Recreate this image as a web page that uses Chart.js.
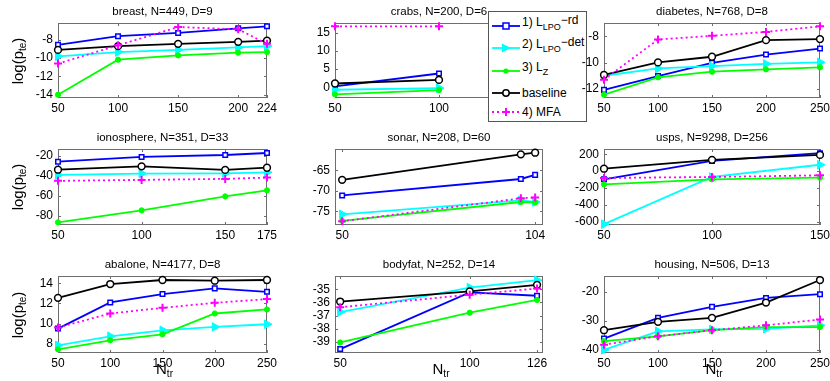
<!DOCTYPE html>
<html>
<head>
<meta charset="utf-8">
<title>log(p_te) against N_tr</title>
<script src="https://cdn.jsdelivr.net/npm/chart.js@4.4.1/dist/chart.umd.min.js"></script>
<style>
  body { margin: 0; background: #fff; }
  #fig { position: relative; width: 830px; height: 381px; overflow: hidden; font-family: "Liberation Sans", Arial, sans-serif; color: #000; }
  .panel { position: absolute; }
  .ylab { position: absolute; width: 80px; height: 18px; line-height: 18px; text-align: center; font-size: 15px; transform: rotate(-90deg); white-space: nowrap; }
  .xlab { position: absolute; width: 60px; height: 18px; line-height: 18px; text-align: center; font-size: 15px; white-space: nowrap; }
  .ylab sub, .xlab sub { font-size: 10px; vertical-align: -3px; line-height: 0; }
  #legend { position: absolute; left: 488px; top: 11px; width: 99px; height: 111px; border: 1px solid #555; background: #fff; z-index: 5; box-sizing: border-box; }
  #legend svg { position: absolute; left: 3px; }
  #legend .txt { position: absolute; left: 33px; height: 14px; line-height: 14px; font-size: 12px; white-space: nowrap; }
  #legend sub { font-size: 9px; vertical-align: -4px; line-height: 0; }
  #legend .up { position: relative; top: -2px; }
</style>
</head>
<body>
<div id="fig"></div>
<script>
// series names, in legend order
const seriesLabels = ['1) L_LPO-rd', '2) L_LPO-det', '3) L_Z', 'baseline', '4) MFA'];

// breast, N=449, D=9
const breastX = [50, 100, 150, 200, 224];
const breastRd = [-8.54, -7.6, -7.25, -6.74, -6.52];
const breastDet = [-9.8, -9.34, -9.1, -8.83, -8.69];
const breastLz = [-14.0, -10.17, -9.7, -9.4, -9.34];
const breastBase = [-9.1, -8.69, -8.44, -8.22, -8.08];
const breastMfa = [-10.6, -8.6, -6.6, -6.85, -8.44];
const breastXTicks = [50, 100, 150, 200, 224];
const breastYTicks = [-14, -12, -10, -8];
const breastXLim = [50, 224];
const breastYLim = [-14.36, -6.16];

// crabs, N=200, D=6
const crabsX = [50, 100];
const crabsRd = [0.27, 3.8];
const crabsDet = [-0.64, -0.19];
const crabsLz = [-1.9, -0.72];
const crabsBase = [1.07, 2.04];
const crabsMfa = [16.7, 16.7];
const crabsXTicks = [50, 100, 150];
const crabsYTicks = [0, 5, 10, 15];
const crabsXLim = [50, 150];
const crabsYLim = [-2.9, 17.6];

// diabetes, N=768, D=8
const diabetesX = [50, 100, 150, 200, 250];
const diabetesRd = [-12.08, -11.02, -10.01, -9.38, -8.92];
const diabetesDet = [-11.0, -10.44, -10.26, -10.1, -9.98];
const diabetesLz = [-12.45, -11.12, -10.69, -10.51, -10.36];
const diabetesBase = [-10.94, -9.98, -9.55, -8.28, -8.2];
const diabetesMfa = [-11.3, -8.23, -7.95, -7.65, -7.22];
const diabetesXTicks = [50, 100, 150, 200, 250];
const diabetesYTicks = [-12, -10, -8];
const diabetesXLim = [50, 250];
const diabetesYLim = [-12.7, -6.97];

// ionosphere, N=351, D=33
const ionoX = [50, 100, 150, 175];
const ionoRd = [-25.7, -21, -19, -17];
const ionoDet = [-39, -37.7, -37.4, -36.4];
const ionoLz = [-86.6, -74.6, -60.6, -54.5];
const ionoBase = [-33.8, -30.4, -34, -31.8];
const ionoMfa = [-45, -44, -43, -41.7];
const ionoXTicks = [50, 100, 150, 175];
const ionoYTicks = [-80, -60, -40, -20];
const ionoXLim = [50, 175];
const ionoYLim = [-89.3, -13];

// sonar, N=208, D=60
const sonarX = [50, 100, 104];
const sonarRd = [-71.1, -67.1, -66.1];
const sonarDet = [-75.7, -72.3, -72.7];
const sonarLz = [-77.3, -72.7, -72.8];
const sonarBase = [-67.3, -61.1, -60.7];
const sonarMfa = [-77.4, -71.8, -71.6];
const sonarXTicks = [50, 104];
const sonarYTicks = [-75, -70, -65];
const sonarXLim = [48, 106.2];
const sonarYLim = [-78.3, -59.8];

// usps, N=9298, D=256
const uspsX = [50, 100, 150];
const uspsRd = [-98, 121, 212];
const uspsDet = [-630, -70, 75];
const uspsLz = [-158, -98, -78];
const uspsBase = [28, 133, 192];
const uspsMfa = [-82, -70, -51];
const uspsXTicks = [50, 100, 150];
const uspsYTicks = [-600, -400, -200, 0, 200];
const uspsXLim = [50, 150];
const uspsYLim = [-640, 262];

// abalone, N=4177, D=8
const abaloneX = [50, 100, 150, 200, 250];
const abaloneRd = [9.5, 12.1, 12.93, 13.5, 13.16];
const abaloneDet = [7.83, 8.73, 9.33, 9.66, 9.93];
const abaloneLz = [7.43, 8.33, 8.93, 11.0, 11.4];
const abaloneBase = [12.56, 13.93, 14.33, 14.26, 14.33];
const abaloneMfa = [9.6, 11.0, 11.56, 12.06, 12.43];
const abaloneXTicks = [50, 100, 150, 200, 250];
const abaloneYTicks = [8, 10, 12, 14];
const abaloneXLim = [50, 250];
const abaloneYLim = [7.07, 14.73];

// bodyfat, N=252, D=14
const bodyfatX = [50, 100, 126];
const bodyfatRd = [-39.54, -35.24, -35.49];
const bodyfatDet = [-36.73, -34.87, -34.31];
const bodyfatLz = [-39.04, -36.78, -35.81];
const bodyfatBase = [-35.93, -35.16, -34.66];
const bodyfatMfa = [-36.36, -35.41, -34.94];
const bodyfatXTicks = [50, 100, 126];
const bodyfatYTicks = [-39, -38, -37, -36, -35];
const bodyfatXLim = [48, 128.3];
const bodyfatYLim = [-39.84, -33.99];

// housing, N=506, D=13
const housingX = [50, 100, 150, 200, 250];
const housingRd = [-36.1, -28.9, -25.1, -22, -20.7];
const housingDet = [-40, -33.6, -32.9, -32.7, -31.5];
const housingLz = [-37, -35.3, -33.2, -32.1, -32.1];
const housingBase = [-33.2, -30.3, -28.9, -23.6, -15.8];
const housingMfa = [-38.2, -35.3, -33.2, -31.5, -29.5];
const housingXTicks = [50, 100, 150, 200, 250];
const housingYTicks = [-40, -30, -20];
const housingXLim = [50, 250];
const housingYLim = [-41.1, -14.4];

const panels = [
  {title: 'breast, N=449, D=9', col: 0, row: 0, x: breastX, ys: [breastRd, breastDet, breastLz, breastBase, breastMfa], xLim: breastXLim, yLim: breastYLim, xTicks: breastXTicks, yTicks: breastYTicks},
  {title: 'crabs, N=200, D=6', col: 1, row: 0, x: crabsX, ys: [crabsRd, crabsDet, crabsLz, crabsBase, crabsMfa], xLim: crabsXLim, yLim: crabsYLim, xTicks: crabsXTicks, yTicks: crabsYTicks},
  {title: 'diabetes, N=768, D=8', col: 2, row: 0, x: diabetesX, ys: [diabetesRd, diabetesDet, diabetesLz, diabetesBase, diabetesMfa], xLim: diabetesXLim, yLim: diabetesYLim, xTicks: diabetesXTicks, yTicks: diabetesYTicks},
  {title: 'ionosphere, N=351, D=33', col: 0, row: 1, x: ionoX, ys: [ionoRd, ionoDet, ionoLz, ionoBase, ionoMfa], xLim: ionoXLim, yLim: ionoYLim, xTicks: ionoXTicks, yTicks: ionoYTicks},
  {title: 'sonar, N=208, D=60', col: 1, row: 1, x: sonarX, ys: [sonarRd, sonarDet, sonarLz, sonarBase, sonarMfa], xLim: sonarXLim, yLim: sonarYLim, xTicks: sonarXTicks, yTicks: sonarYTicks},
  {title: 'usps, N=9298, D=256', col: 2, row: 1, x: uspsX, ys: [uspsRd, uspsDet, uspsLz, uspsBase, uspsMfa], xLim: uspsXLim, yLim: uspsYLim, xTicks: uspsXTicks, yTicks: uspsYTicks},
  {title: 'abalone, N=4177, D=8', col: 0, row: 2, x: abaloneX, ys: [abaloneRd, abaloneDet, abaloneLz, abaloneBase, abaloneMfa], xLim: abaloneXLim, yLim: abaloneYLim, xTicks: abaloneXTicks, yTicks: abaloneYTicks},
  {title: 'bodyfat, N=252, D=14', col: 1, row: 2, x: bodyfatX, ys: [bodyfatRd, bodyfatDet, bodyfatLz, bodyfatBase, bodyfatMfa], xLim: bodyfatXLim, yLim: bodyfatYLim, xTicks: bodyfatXTicks, yTicks: bodyfatYTicks},
  {title: 'housing, N=506, D=13', col: 2, row: 2, x: housingX, ys: [housingRd, housingDet, housingLz, housingBase, housingMfa], xLim: housingXLim, yLim: housingYLim, xTicks: housingXTicks, yTicks: housingYTicks}
];

// axes boxes on the page (left/width per column, top/height per row)
const cols = [{l: 58, w: 209}, {l: 335, w: 208}, {l: 604, w: 216}];
const rows = [{t: 23, h: 75}, {t: 149, h: 76}, {t: 276, h: 77}];
const YAXIS_W = 50, TITLE_H = 22, XAXIS_H = 20, RIGHT_PAD = 14;
const FONT = '"Liberation Sans", Arial, sans-serif';

// line + marker styles, same order as seriesLabels
const styles = [
  {borderColor: '#0000ff', pointStyle: 'rect', pointRadius: 3.2, pointBackgroundColor: '#ffffff', pointBorderColor: '#0000ff', pointBorderWidth: 1.5},
  {borderColor: '#00ffff', pointStyle: 'triangle', pointRotation: 90, pointRadius: 5, pointBackgroundColor: '#00ffff', pointBorderColor: '#00ffff', pointBorderWidth: 1},
  {borderColor: '#00ff00', pointStyle: 'circle', pointRadius: 2.6, pointBackgroundColor: '#00ff00', pointBorderColor: '#00ff00', pointBorderWidth: 1},
  {borderColor: '#000000', pointStyle: 'circle', pointRadius: 3.4, pointBackgroundColor: '#ffffff', pointBorderColor: '#000000', pointBorderWidth: 1.5},
  {borderColor: '#ff00ff', borderDash: [2, 3], pointStyle: 'cross', pointRadius: 4, pointBackgroundColor: '#ff00ff', pointBorderColor: '#ff00ff', pointBorderWidth: 2}
];

function tickText(v) {
  return '' + v;
}

// matlab-ish box round the plot area with inward tick marks
const boxPlugin = {
  id: 'matlabBox',
  beforeDatasetsDraw(chart) {
    const ctx = chart.ctx;
    const a = chart.chartArea;
    const sx = chart.scales.x, sy = chart.scales.y;
    ctx.save();
    ctx.strokeStyle = '#6e6e6e';
    ctx.lineWidth = 1;
    ctx.strokeRect(a.left + 0.5, a.top + 0.5, a.right - a.left - 1, a.bottom - a.top - 1);
    ctx.beginPath();
    sx.ticks.forEach(function(t) {
      const p = Math.round(sx.getPixelForValue(t.value)) + 0.5;
      ctx.moveTo(p, a.bottom); ctx.lineTo(p, a.bottom - 3);
      ctx.moveTo(p, a.top); ctx.lineTo(p, a.top + 3);
    });
    sy.ticks.forEach(function(t) {
      const p = Math.round(sy.getPixelForValue(t.value)) + 0.5;
      ctx.moveTo(a.left, p); ctx.lineTo(a.left + 3, p);
      ctx.moveTo(a.right, p); ctx.lineTo(a.right - 3, p);
    });
    ctx.stroke();
    ctx.restore();
  }
};

const fig = document.getElementById('fig');

panels.forEach(function(p) {
  const c = cols[p.col], r = rows[p.row];
  const div = document.createElement('div');
  div.className = 'panel';
  div.style.left = (c.l - YAXIS_W) + 'px';
  div.style.top = (r.t - TITLE_H) + 'px';
  // right-hand column sits above the legend so its tick labels stay readable
  if (p.col === 2) div.style.zIndex = 6;
  const canvas = document.createElement('canvas');
  canvas.width = c.w + YAXIS_W + RIGHT_PAD;
  canvas.height = r.h + TITLE_H + XAXIS_H;
  div.appendChild(canvas);
  fig.appendChild(div);

  const datasets = p.ys.map(function(ys, i) {
    return Object.assign({
      label: seriesLabels[i],
      data: p.x.map(function(x, j) { return {x: x, y: ys[j]}; }),
      borderWidth: 1.8,
      fill: false,
      tension: 0,
      clip: false,
      order: 5 - i
    }, styles[i]);
  });

  new Chart(canvas, {
    type: 'line',
    data: {datasets: datasets},
    options: {
      responsive: false,
      animation: false,
      devicePixelRatio: 1,
      layout: {padding: {left: 0, right: RIGHT_PAD, top: 0, bottom: 0}},
      plugins: {
        legend: {display: false},
        tooltip: {enabled: false},
        title: {
          display: true, text: p.title, fullSize: false, color: '#000',
          font: {family: FONT, size: 11.5, weight: 'normal', lineHeight: '14px'},
          padding: {top: 4, bottom: 4}
        }
      },
      scales: {
        x: {
          type: 'linear', min: p.xLim[0], max: p.xLim[1],
          grid: {display: false, drawTicks: false}, border: {display: false},
          ticks: {color: '#000', font: {family: FONT, size: 12}, padding: 3, autoSkip: false, maxRotation: 0, callback: tickText},
          afterBuildTicks: function(s) { s.ticks = p.xTicks.map(function(v) { return {value: v}; }); },
          afterFit: function(s) { s.height = XAXIS_H; s.paddingLeft = 0; s.paddingRight = 0; }
        },
        y: {
          type: 'linear', min: p.yLim[0], max: p.yLim[1],
          grid: {display: false, drawTicks: false}, border: {display: false},
          ticks: {color: '#000', font: {family: FONT, size: 12}, padding: 5, autoSkip: false, callback: tickText},
          afterBuildTicks: function(s) { s.ticks = p.yTicks.map(function(v) { return {value: v}; }); },
          afterFit: function(s) { s.width = YAXIS_W; s.paddingTop = 0; s.paddingBottom = 0; }
        }
      }
    },
    plugins: [boxPlugin]
  });
});

// axis labels
rows.forEach(function(r) {
  const d = document.createElement('div');
  d.className = 'ylab';
  d.innerHTML = 'log(p<sub>te</sub>)';
  d.style.left = (18 - 40) + 'px';
  d.style.top = (r.t + r.h / 2 - 9) + 'px';
  fig.appendChild(d);
});
cols.forEach(function(c) {
  const d = document.createElement('div');
  d.className = 'xlab';
  d.innerHTML = 'N<sub>tr</sub>';
  d.style.left = (c.l + c.w / 2 - 30 + 2) + 'px';
  d.style.top = (369 - 9) + 'px';
  fig.appendChild(d);
});

// legend, drawn over the crabs panel
const legendRows = [
  {y: 13.7, up: 4, html: '1) L<sub>LPO</sub><span class="up">\u2212rd</span>',
   svg: '<line x1="0" y1="7" x2="28" y2="7" stroke="#0000ff" stroke-width="1.8"/><rect x="11" y="4" width="6" height="6" fill="#fff" stroke="#0000ff" stroke-width="1.5"/>'},
  {y: 36.3, up: 4, html: '2) L<sub>LPO</sub><span class="up">\u2212det</span>',
   svg: '<line x1="0" y1="7" x2="28" y2="7" stroke="#00ffff" stroke-width="1.8"/><polygon points="10,2.5 19,7 10,11.5" fill="#00ffff"/>'},
  {y: 59, up: 4, html: '3) L<sub>Z</sub>',
   svg: '<line x1="0" y1="7" x2="28" y2="7" stroke="#00ff00" stroke-width="1.8"/><circle cx="14" cy="7" r="2.6" fill="#00ff00"/>'},
  {y: 81.3, up: 0, html: 'baseline',
   svg: '<line x1="0" y1="7" x2="28" y2="7" stroke="#000" stroke-width="1.8"/><circle cx="14" cy="7" r="3.2" fill="#fff" stroke="#000" stroke-width="1.5"/>'},
  {y: 99.7, up: 0, html: '4) MFA',
   svg: '<line x1="0" y1="7" x2="28" y2="7" stroke="#ff00ff" stroke-width="1.8" stroke-dasharray="2,3"/><path d="M10 7 H18 M14 3 V11" stroke="#ff00ff" stroke-width="2"/>'}
];
const legend = document.createElement('div');
legend.id = 'legend';
legendRows.forEach(function(e) {
  const s = document.createElementNS('http://www.w3.org/2000/svg', 'svg');
  s.setAttribute('width', '30');
  s.setAttribute('height', '14');
  s.style.top = (e.y - 7) + 'px';
  s.innerHTML = e.svg;
  legend.appendChild(s);
  const t = document.createElement('div');
  t.className = 'txt';
  t.style.top = (e.y - e.up - 7) + 'px';
  t.innerHTML = e.html;
  legend.appendChild(t);
});
fig.appendChild(legend);
</script>
</body>
</html>
